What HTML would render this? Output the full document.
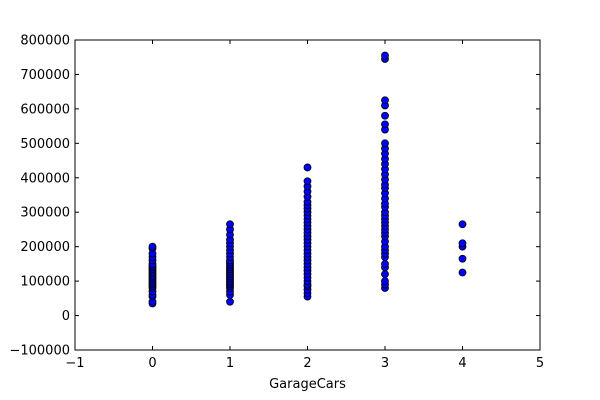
<!DOCTYPE html>
<html><head><meta charset="utf-8"><style>
body{margin:0;background:#fff;}
svg{display:block;font-family:"DejaVu Sans","Liberation Sans",sans-serif;}
</style></head><body>
<svg id="chart" width="600" height="400"></svg>
<script>
const xTicks=[-1,0,1,2,3,4,5];
const yTicks=[-100000,0,100000,200000,300000,400000,500000,600000,700000,800000];
const cars0=[35000,40000,55000,60000,70000,80000,85000,90000,95000,100000,105000,110000,115000,120000,125000,130000,135000,140000,145000,150000,160000,170000,180000,195000,200000];
const cars1=[40000,60000,70000,80000,85000,90000,95000,100000,105000,110000,115000,120000,125000,130000,135000,140000,145000,150000,155000,160000,170000,180000,190000,200000,210000,220000,235000,250000,265000];
const cars2=[55000,65000,75000,85000,90000,100000,110000,120000,130000,140000,150000,160000,170000,180000,190000,200000,210000,220000,230000,240000,250000,260000,270000,280000,290000,300000,310000,320000,330000,345000,360000,375000,390000,430000];
const cars3=[80000,90000,100000,120000,140000,150000,170000,180000,190000,200000,215000,230000,240000,250000,260000,270000,280000,290000,300000,315000,325000,340000,355000,370000,380000,395000,410000,425000,440000,455000,470000,485000,500000,540000,555000,580000,610000,625000,745000,755000];
const cars4=[125000,165000,200000,210000,265000];
const groups=[[0,cars0],[1,cars1],[2,cars2],[3,cars3],[4,cars4]];
const L=75,R=540,T=40,B=350;
const sx=v=>L+(v+1)/6*(R-L);
const sy=v=>B-(v+100000)/900000*(B-T);
const svg=document.getElementById('chart');
const NS='http://www.w3.org/2000/svg';
function mk(t,a){const e=document.createElementNS(NS,t);for(const k in a)e.setAttribute(k,a[k]);svg.appendChild(e);return e;}
for(const [x,vals] of groups){for(const v of vals){
 const c=mk('circle',{cx:sx(x),cy:sy(v),r:3.5,fill:'#0000ff',stroke:'#000','stroke-width':0.8});
 
 
}}
const fr=mk('rect',{x:L,y:T,width:R-L,height:B-T,fill:'none',stroke:'#000','stroke-width':1});


for(const t of xTicks){const x=sx(t);
 mk('line',{x1:x,x2:x,y1:B,y2:B-4,stroke:'#000'});mk('line',{x1:x,x2:x,y1:T,y2:T+4,stroke:'#000'});
 const tx=mk('text',{x:x,y:B+17,'font-size':13,'text-anchor':'middle'});tx.textContent=t<0?'\u2212'+(-t):t;
 
 
}
for(const t of yTicks){const y=sy(t);
 mk('line',{x1:L,x2:L+4,y1:y,y2:y,stroke:'#000'});mk('line',{x1:R,x2:R-4,y1:y,y2:y,stroke:'#000'});
 const tx=mk('text',{x:L-5,y:y+4.5,'font-size':13,'text-anchor':'end'});tx.textContent=t<0?'\u2212'+(-t):t;
 
 
}
const xl=mk('text',{x:(L+R)/2,y:388,'font-size':13,'text-anchor':'middle'});xl.textContent='GarageCars';


</script>
</body></html>
